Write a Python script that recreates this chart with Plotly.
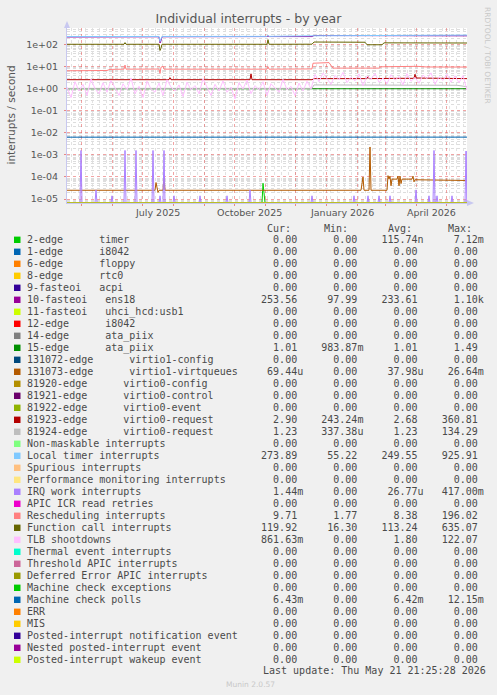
import numpy as np
import pandas as pd
import plotly.graph_objects as go

# ---------------- data ----------------
START = pd.Timestamp("2025-04-16 21:25:28")
END = pd.Timestamp("2026-05-21 21:25:28")

series_names = [
    "2-edge      timer", "1-edge      i8042", "6-edge      floppy", "8-edge      rtc0",
    "9-fasteoi   acpi", "10-fasteoi   ens18", "11-fasteoi   uhci_hcd:usb1", "12-edge      i8042",
    "14-edge      ata_piix", "15-edge      ata_piix", "131072-edge      virtio1-config",
    "131073-edge      virtio1-virtqueues", "81920-edge      virtio0-config",
    "81921-edge      virtio0-control", "81922-edge      virtio0-event",
    "81923-edge      virtio0-request", "81924-edge      virtio0-request",
    "Non-maskable interrupts", "Local timer interrupts", "Spurious interrupts",
    "Performance monitoring interrupts", "IRQ work interrupts", "APIC ICR read retries",
    "Rescheduling interrupts", "Function call interrupts", "TLB shootdowns",
    "Thermal event interrupts", "Threshold APIC interrupts", "Deferred Error APIC interrupts",
    "Machine check exceptions", "Machine check polls", "ERR", "MIS",
    "Posted-interrupt notification event", "Nested posted-interrupt event",
    "Posted-interrupt wakeup event",
]
series_colors = [
    "#00CC00", "#0066B3", "#FF8000", "#FFCC00", "#330099", "#990099", "#CCFF00", "#FF0000",
    "#808080", "#008F00", "#00487D", "#B35A00", "#B38F00", "#6B006B", "#8FB300", "#B30000",
    "#BEBEBE", "#80FF80", "#80C9FF", "#FFC080", "#FFE680", "#AA80FF", "#EE00CC", "#FF8080",
    "#666600", "#FFBFFF", "#00FFCC", "#CC6699", "#999900", "#00CC00", "#0066B3", "#FF8000",
    "#FFCC00", "#330099", "#990099", "#CCFF00",
]
cur_vals = ["0.00", "0.00", "0.00", "0.00", "0.00", "253.56", "0.00", "0.00", "0.00", "1.01",
            "0.00", "69.44u", "0.00", "0.00", "0.00", "2.90", "1.23", "0.00", "273.89", "0.00",
            "0.00", "1.44m", "0.00", "9.71", "119.92", "861.63m", "0.00", "0.00", "0.00", "0.00",
            "6.43m", "0.00", "0.00", "0.00", "0.00", "0.00"]
min_vals = ["0.00", "0.00", "0.00", "0.00", "0.00", "97.99", "0.00", "0.00", "0.00", "983.87m",
            "0.00", "0.00", "0.00", "0.00", "0.00", "243.24m", "337.38u", "0.00", "55.22", "0.00",
            "0.00", "0.00", "0.00", "1.77", "16.30", "0.00", "0.00", "0.00", "0.00", "0.00",
            "0.00", "0.00", "0.00", "0.00", "0.00", "0.00"]
avg_vals = ["115.74n", "0.00", "0.00", "0.00", "0.00", "233.61", "0.00", "0.00", "0.00", "1.01",
            "0.00", "37.98u", "0.00", "0.00", "0.00", "2.68", "1.23", "0.00", "249.55", "0.00",
            "0.00", "26.77u", "0.00", "8.38", "113.24", "1.80", "0.00", "0.00", "0.00", "0.00",
            "6.42m", "0.00", "0.00", "0.00", "0.00", "0.00"]
max_vals = ["7.12m", "0.00", "0.00", "0.00", "0.00", "1.10k", "0.00", "0.00", "0.00", "1.49",
            "0.00", "26.64m", "0.00", "0.00", "0.00", "360.81", "134.29", "0.00", "925.91", "0.00",
            "0.00", "417.00m", "0.00", "196.02", "635.07", "122.07", "0.00", "0.00", "0.00", "0.00",
            "12.15m", "0.00", "0.00", "0.00", "0.00", "0.00"]

# time series (day offset from START, value in interrupts/second)
timer_days = [0, 195, 196, 197, 198, 400]
timer_vals = [0, 0, 5.2e-5, 2.2e-5, 0, 0]

ens18_days = [0, 92, 93, 94, 95, 200, 201, 202, 245, 247, 400]
ens18_vals = [225, 230, 120, 150, 230, 235, 255, 235, 235, 262, 254]

irq15_days = [0, 400]
irq15_vals = [1.01, 1.01]

virtq_days = [0, 88, 89, 90, 91, 92, 96, 97, 98, 294, 296, 297, 302, 303, 304, 320, 321, 322,
              323, 324, 325, 330, 331, 332, 333, 334, 335, 345, 346, 347, 348, 400]
virtq_vals = [2.5e-5, 2.5e-5, 5.6e-5, 2.5e-5, 2.0e-5, 2.5e-5, 2.5e-5, 1.07e-4, 2.5e-5, 2.5e-5,
              1.0e-4, 2.5e-5, 2.5e-5, 2.3e-3, 2.5e-5, 2.5e-5, 1.15e-4, 8e-5, 1.1e-4, 4e-5, 8e-5,
              8e-5, 1.1e-4, 4e-5, 1.1e-4, 5e-5, 8e-5, 8e-5, 1.1e-4, 6e-5, 7.5e-5, 6.94e-5]

req23_days = [0, 102, 103, 104, 183, 184, 185, 245, 247, 300, 301, 302, 333, 347, 348, 349, 400]
req23_vals = [2.6, 2.6, 3.2, 2.6, 2.6, 4.8, 2.6, 2.6, 2.9, 2.9, 3.6, 2.9, 3.0, 3.0, 4.6, 3.1, 2.9]

req24_days = [0, 245, 247, 390, 400]
req24_vals = [1.05, 1.05, 1.5, 1.45, 1.25]

loc_days = [0, 92, 93, 94, 95, 200, 201, 202, 245, 247, 400]
loc_vals = [235, 238, 140, 170, 238, 240, 270, 240, 240, 255, 274]

iwi_spike_days = [14, 29, 45, 58, 69, 86, 93, 97, 107, 133, 160, 183, 245, 287, 301, 312, 323,
                  349, 362, 367, 370, 385, 399]
iwi_spike_vals = [1.6e-3, 2.6e-5, 1.4e-5, 1.6e-3, 1.6e-3, 1.6e-3, 1.4e-5, 1.6e-3, 1.4e-5, 1.4e-5,
                  1.4e-5, 2.6e-5, 1.4e-5, 1.4e-5, 1.4e-5, 1.4e-5, 1.4e-5, 2.6e-5, 1.4e-5, 1.6e-3,
                  1.4e-5, 1.4e-5, 1.5e-3]

res_days = [0, 40, 43, 57, 58, 59, 92, 93, 94, 96, 97, 200, 201, 202, 245, 246, 262, 266, 312,
            314, 350, 360, 400]
res_vals = [6.6, 6.8, 7.6, 7.8, 12, 7.8, 7.9, 5.0, 9.5, 10.5, 7.8, 7.8, 10, 7.8, 8.0, 14.5,
            15.5, 8.7, 8.7, 10, 10.5, 9.8, 9.71]

cal_days = [0, 57, 58, 59, 92, 93, 94, 95, 200, 201, 202, 245, 247, 298, 300, 315, 317, 400]
cal_vals = [105, 105, 125, 105, 105, 55, 70, 105, 105, 170, 105, 106, 133, 130, 100, 100, 122, 120]

tlb_days = list(range(0, 404, 4))
tlb_vals = [1.2, 0.4, 2.1, 0.8, 1.6, 0.5, 2.8, 1.0, 0.6, 1.9, 0.7, 2.4, 1.1, 0.5, 1.7, 0.9, 3.1,
            0.6, 1.3, 0.4, 2.2, 1.0, 0.7, 1.8, 0.5, 2.6, 1.2, 0.8, 1.5, 0.45, 2.0, 0.9, 1.4, 0.6,
            2.9, 1.1, 0.5, 1.6, 0.8, 2.3, 0.7, 1.2, 0.35, 1.9, 1.0, 2.5, 0.6, 1.4, 0.9, 2.1, 0.5,
            1.7, 1.1, 0.7, 2.7, 0.9, 1.3, 0.5, 1.8, 0.8, 2.2, 1.0,
            4.5, 2.1, 5.2, 3.0, 1.6, 4.1, 2.6, 5.6, 1.9, 3.4, 2.3, 4.8, 1.4, 3.8, 2.7, 5.0, 2.0,
            3.1, 1.7, 4.4, 2.5, 3.6, 1.5, 4.9, 2.2, 3.3, 1.8, 4.2, 2.9, 5.3, 1.6, 3.5, 2.4, 4.6,
            2.0, 3.9, 1.9, 4.0, 0.86]

mcp_days = [0, 237, 238, 239, 400]
mcp_vals = [6.4e-3, 6.4e-3, 6.0e-3, 6.4e-3, 6.43e-3]

month_label_text = ["July 2025", "October 2025", "January 2026", "April 2026"]
month_label_dates = ["2025-07-16 12:00", "2025-10-16 12:00", "2026-01-16 12:00", "2026-04-16"]
y_tick_vals = [1e-5, 1e-4, 1e-3, 1e-2, 1e-1, 1e0, 1e1, 1e2]
y_tick_text = ["1e-05", "1e-04", "1e-03", "1e-02", "1e-01", "1e+00", "1e+01", "1e+02"]

# ---------------- geometry ----------------
W_FIG, H_FIG = 497, 695
L, R, T, B = 67, 30, 28, 492
PW = W_FIG - L - R
PH = H_FIG - T - B
Y_LOG_MIN, Y_LOG_MAX = -5.18, 2.76
FLOOR = 10 ** (-5.17)   # rrdtool draws zero values at the bottom edge


def px2x(px):
    return (px - L) / PW


def py2y(py):
    return (T + PH - py) / PH


def nb(s):
    return s.replace(" ", "\u00a0")


# build per-series (days, values)
series_data = {i: ([0, 400], [0, 0]) for i in range(len(series_names))}
series_data[0] = (timer_days, timer_vals)
series_data[5] = (ens18_days, ens18_vals)
series_data[9] = (irq15_days, irq15_vals)
series_data[11] = (virtq_days, virtq_vals)
series_data[15] = (req23_days, req23_vals)
series_data[16] = (req24_days, req24_vals)
series_data[18] = (loc_days, loc_vals)
iwi_d, iwi_v = [0], [0.0]
for d, v in zip(iwi_spike_days, iwi_spike_vals):
    iwi_d += [d - 1, d, d + 1]
    iwi_v += [0.0, v, 0.0]
iwi_d.append(400)
iwi_v.append(iwi_spike_vals[-1])
series_data[21] = (iwi_d, iwi_v)
series_data[23] = (res_days, res_vals)
series_data[24] = (cal_days, cal_vals)
series_data[25] = (tlb_days, tlb_vals)
series_data[30] = (mcp_days, mcp_vals)

fig = go.Figure()
for i, name in enumerate(series_names):
    d, v = series_data[i]
    x = [START + pd.Timedelta(days=k) for k in d]
    y = np.clip(np.array(v, dtype=float), FLOOR, None)
    fig.add_trace(go.Scatter(x=x, y=y, mode="lines", name=name,
                             line=dict(color=series_colors[i], width=1),
                             showlegend=False, hoverinfo="skip"))

month_starts = list(pd.date_range("2025-05-01", "2026-05-01", freq="MS"))
week_starts = list(pd.date_range("2025-04-21", "2026-05-18", freq="7D"))
minor_y = [k * 10.0 ** e for e in range(-6, 3) for k in range(2, 10)]

annotations = []
shapes = []

# month labels
for t, d in zip(month_label_text, month_label_dates):
    annotations.append(dict(x=d, xref="x", y=py2y(212.5), yref="paper", text=t,
                            showarrow=False, xanchor="center", yanchor="middle",
                            font=dict(family="DejaVu Sans", size=9.5, color="#555555")))

# legend
ROW0 = 239.8
PITCH = 12.0
mono = dict(family="DejaVu Sans Mono", size=10, color="#4a4a4a")
for hdr, hx in zip(["Cur:", "Min:", "Avg:", "Max:"], [266.3, 323.3, 386.7, 446.7]):
    annotations.append(dict(x=px2x(hx), xref="paper", y=py2y(228.5), yref="paper", text=hdr,
                            showarrow=False, xanchor="left", yanchor="middle", font=mono,
                            borderpad=0))


def fmt(v):
    if v[-1] in "numkM":
        return v.rjust(10)
    return (v + " ").rjust(10)


for i, name in enumerate(series_names):
    yc = ROW0 + PITCH * i
    shapes.append(dict(type="rect", xref="paper", yref="paper",
                       x0=px2x(14), x1=px2x(20.5), y0=py2y(yc - 3.2), y1=py2y(yc + 3.2),
                       fillcolor=series_colors[i], line=dict(width=0)))
    annotations.append(dict(x=px2x(26), xref="paper", y=py2y(yc), yref="paper", text=nb(name),
                            showarrow=False, xanchor="left", yanchor="middle", font=mono,
                            borderpad=0))
    row = fmt(cur_vals[i]) + fmt(min_vals[i]) + fmt(avg_vals[i]) + fmt(max_vals[i])
    annotations.append(dict(x=px2x(241.9), xref="paper", y=py2y(yc), yref="paper", text=nb(row),
                            showarrow=False, xanchor="left", yanchor="middle", font=mono,
                            borderpad=0))

annotations.append(dict(x=px2x(261.5), xref="paper", y=py2y(670.7), yref="paper",
                        text=nb("Last update: Thu May 21 21:25:28 2026"), showarrow=False,
                        xanchor="left", yanchor="middle", font=mono, borderpad=0))
annotations.append(dict(x=px2x(250), xref="paper", y=py2y(684), yref="paper",
                        text="Munin 2.0.57", showarrow=False, xanchor="center", yanchor="middle",
                        font=dict(family="DejaVu Sans", size=7.5, color="#c8c8c8")))
annotations.append(dict(x=px2x(487.5), xref="paper", y=py2y(5), yref="paper",
                        text="RRDTOOL / TOBI OETIKER", showarrow=False, textangle=90,
                        xanchor="center", yanchor="top",
                        font=dict(family="DejaVu Sans", size=7.5, color="#c8c8c8")))
annotations.append(dict(x=px2x(10), xref="paper", y=py2y(115.5), yref="paper",
                        text="interrupts / second", showarrow=False, textangle=-90,
                        xanchor="center", yanchor="middle",
                        font=dict(family="DejaVu Sans", size=10.5, color="#555555")))

# axis arrows
ax_col = "#C8C8F0"
shapes.append(dict(type="path", xref="paper", yref="paper",
                   path=f"M {px2x(64)} {py2y(28)} L {px2x(70)} {py2y(28)} L {px2x(67)} {py2y(21)} Z",
                   fillcolor=ax_col, line=dict(width=0)))
shapes.append(dict(type="path", xref="paper", yref="paper",
                   path=f"M {px2x(467)} {py2y(200)} L {px2x(467)} {py2y(206)} L {px2x(474)} {py2y(203)} Z",
                   fillcolor=ax_col, line=dict(width=0)))

fig.update_layout(
    width=W_FIG, height=H_FIG,
    margin=dict(l=L, r=R, t=T, b=B, autoexpand=False),
    paper_bgcolor="#F0F0F0", plot_bgcolor="#FFFFFF",
    title=dict(text="Individual interrupts - by year", x=0.5, xref="container",
               y=1 - 19 / H_FIG, yref="container", xanchor="center", yanchor="middle",
               font=dict(family="DejaVu Sans", size=12.5, color="#555555")),
    showlegend=False,
    hovermode=False,
    annotations=annotations,
    shapes=shapes,
    xaxis=dict(type="date", range=[START, END], tickmode="array", tickvals=month_starts,
               showticklabels=False, showgrid=True, gridcolor="rgba(230,90,90,0.55)",
               griddash="dot", gridwidth=1, ticks="outside", ticklen=2,
               tickcolor="rgba(230,90,90,0.7)", showline=True, linecolor=ax_col, linewidth=1,
               layer="below traces", zeroline=False, automargin=False,
               minor=dict(tickmode="array", tickvals=week_starts, showgrid=True,
                          gridcolor="#E2E2E2", griddash="dot", gridwidth=1, ticks="")),
    yaxis=dict(type="log", range=[Y_LOG_MIN, Y_LOG_MAX], tickmode="array", tickvals=y_tick_vals,
               ticktext=y_tick_text, tickfont=dict(family="DejaVu Sans", size=9.5, color="#555555"),
               showgrid=True, gridcolor="rgba(230,90,90,0.55)", griddash="dot", gridwidth=1,
               ticks="outside", ticklen=2, tickcolor="rgba(230,90,90,0.7)", ticklabelstandoff=4,
               showline=True, linecolor=ax_col, linewidth=1, layer="below traces",
               zeroline=False, automargin=False,
               minor=dict(tickmode="array", tickvals=minor_y, showgrid=True, gridcolor="#DDDDDD",
                          griddash="dot", gridwidth=1, ticks="")),
)

fig.write_html(
    "out.html",
    config={"displayModeBar": False, "staticPlot": True},
    post_script="document.body.style.margin='0';document.body.style.background='#F0F0F0';"
                "document.documentElement.style.overflow='hidden';",
)
